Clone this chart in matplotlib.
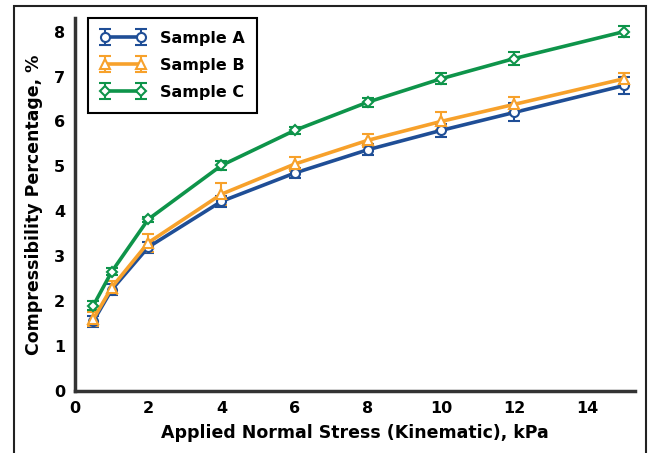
import matplotlib.pyplot as plt
from matplotlib.patches import Rectangle

# Applied normal stress (kPa)
stress = [0.5, 1, 2, 4, 6, 8, 10, 12, 15]

# Compressibility (%) per sample, with error bar half-widths
sample_a = [1.55, 2.25, 3.2, 4.22, 4.85, 5.37, 5.8, 6.2, 6.8]
sample_a_err = [0.12, 0.12, 0.12, 0.12, 0.12, 0.12, 0.15, 0.2, 0.2]
sample_b = [1.6, 2.3, 3.3, 4.38, 5.05, 5.58, 6.0, 6.38, 6.95]
sample_b_err = [0.15, 0.15, 0.2, 0.25, 0.15, 0.15, 0.2, 0.17, 0.12]
sample_c = [1.9, 2.65, 3.82, 5.02, 5.8, 6.43, 6.95, 7.4, 8.0]
sample_c_err = [0.1, 0.08, 0.05, 0.1, 0.08, 0.1, 0.12, 0.15, 0.12]

x_ticks = [0, 2, 4, 6, 8, 10, 12, 14]
y_ticks = [0, 1, 2, 3, 4, 5, 6, 7, 8]

plt.rcParams['font.family'] = ['DejaVu Sans']
plt.rcParams['font.weight'] = 'bold'

fig = plt.figure(figsize=(6.52, 4.53), dpi=100)
ax = fig.add_axes([0.115, 0.137, 0.859, 0.823])

series = [
    ('Sample A', sample_a, sample_a_err, '#1f4e96', 'o'),
    ('Sample B', sample_b, sample_b_err, '#f7a12b', '^'),
    ('Sample C', sample_c, sample_c_err, '#0e944a', 'D'),
]
for label, vals, err, color, marker in series:
    ms = 5.5 if marker == 'D' else 6.5
    ax.errorbar(stress, vals, yerr=err, label=label, color=color, lw=2.6,
                marker=marker, ms=ms, mfc='white', mec=color, mew=1.5,
                ecolor=color, elinewidth=1.5, capsize=4, capthick=1.5)

ax.set_xlim(0, 15.3)
ax.set_ylim(0, 8.3)
ax.set_xticks(x_ticks)
ax.set_yticks(y_ticks)
ax.tick_params(length=0, labelsize=11.5, pad=7)
for lab in ax.get_xticklabels() + ax.get_yticklabels():
    lab.set_fontweight('bold')

for side in ['top', 'right']:
    ax.spines[side].set_visible(False)
for side in ['left', 'bottom']:
    ax.spines[side].set_linewidth(2.5)
    ax.spines[side].set_color('#333333')

ax.set_xlabel('Applied Normal Stress (Kinematic), kPa', fontsize=12.5, fontweight='bold', labelpad=6)
ax.set_ylabel('Compressibility Percentage, %', fontsize=12.5, fontweight='bold', labelpad=8)

leg = ax.legend(loc='upper left', bbox_to_anchor=(0.023, 1.0), borderaxespad=0,
                fontsize=11.5, numpoints=2, fancybox=False, edgecolor='black',
                framealpha=1, handlelength=2.8, handletextpad=0.9,
                borderpad=0.8, labelspacing=0.75)
leg.get_frame().set_linewidth(1.5)
for t in leg.get_texts():
    t.set_fontweight('bold')

# outer frame around the figure (open at the bottom)
fig.patches.append(Rectangle((14 / 652, -0.1), 632 / 652, 1.1 - 6 / 453,
                             transform=fig.transFigure, fill=False,
                             edgecolor='#222222', lw=1.5))

fig.savefig('out.png', dpi=100)
